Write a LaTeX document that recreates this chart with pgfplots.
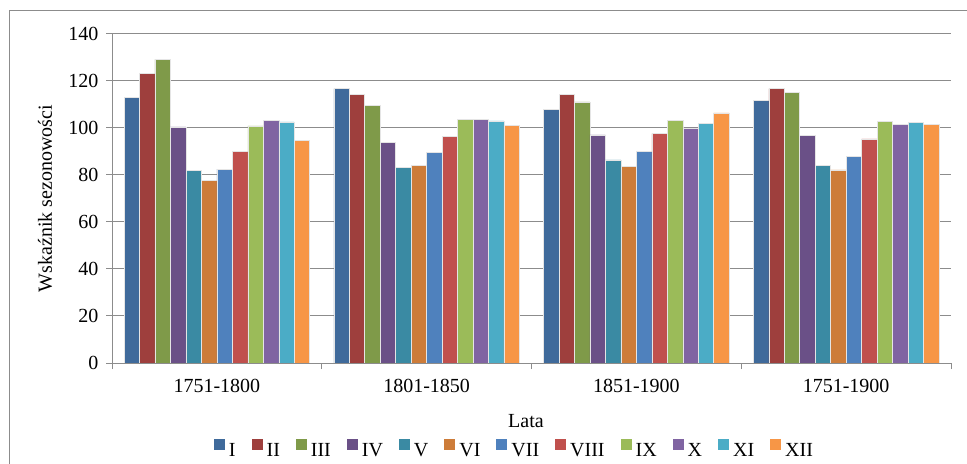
\documentclass[border=0pt]{standalone}
\usepackage{fontspec}
\setmainfont{Liberation Serif}
\usepackage{pgfplots}
\pgfplotsset{compat=1.18}

\definecolor{cI}{HTML}{3F6A9B}
\definecolor{cII}{HTML}{9E3F3D}
\definecolor{cIII}{HTML}{7F9A49}
\definecolor{cIV}{HTML}{6A5087}
\definecolor{cV}{HTML}{3A8AA3}
\definecolor{cVI}{HTML}{CD7C39}
\definecolor{cVII}{HTML}{4F81BD}
\definecolor{cVIII}{HTML}{C0504D}
\definecolor{cIX}{HTML}{9BBB59}
\definecolor{cX}{HTML}{8064A2}
\definecolor{cXI}{HTML}{4BACC6}
\definecolor{cXII}{HTML}{F79646}
\definecolor{gridgray}{HTML}{8C8C8C}

\newcommand\fsz{\fontsize{20bp}{24bp}\selectfont}

\begin{document}
\begin{tikzpicture}
\useasboundingbox (0bp,0bp) rectangle (967bp,464bp);
% chart area frame (only left and top edges are visible)
\draw[gridgray, line width=1bp] (9bp,0bp) -- (9bp,453bp) -- (967bp,453bp);
\begin{axis}[
  at={(112bp,101bp)}, anchor=south west,
  scale only axis, width=839bp, height=329bp,
  ybar=0pt, bar width=15.47bp,
  xmin=-0.5, xmax=3.5, ymin=0, ymax=140,
  xtick={-0.5,0.5,1.5,2.5,3.5},
  x tick label as interval=true,
  xticklabels={1751-1800,1801-1850,1851-1900,1751-1900},
  ytick={0,20,...,140},
  axis x line*=bottom, axis y line*=left,
  axis line style={draw=gridgray, line width=1bp},
  tick style={draw=gridgray, line width=1bp},
  tick align=outside, major tick length=6bp,
  ymajorgrids, grid style={draw=gridgray, line width=1bp},
  /pgf/number format/assume math mode=true,
  tick label style={font=\fsz, black},
  xticklabel style={yshift=-7bp},
  yticklabel style={xshift=-4bp},
  label style={font=\fsz},
  xlabel={Lata},
  xlabel style={at={(axis description cs:0.4934,-0.176)}, anchor=center},
  ylabel={Wskaźnik sezonowości},
  ylabel style={at={(axis description cs:-0.0799,0.5)}, anchor=center},
  legend columns=12,
  legend style={at={(axis description cs:0.4797,-0.263)}, anchor=center,
    draw=none, fill=none, font=\fsz,
    /tikz/every odd column/.append style={column sep=2bp},
    /tikz/every even column/.append style={column sep=14bp}},
  legend image code/.code={\fill[#1,draw=none] (0bp,1bp) rectangle (11bp,12bp);},
  every axis plot/.append style={draw=white!80!gray, line width=0.5bp},
]
\addplot[fill=cI]    coordinates {(0,112.9) (1,116.8) (2,107.8) (3,111.9)};
\addplot[fill=cII]   coordinates {(0,123.4) (1,114.4) (2,114.4) (3,116.8)};
\addplot[fill=cIII]  coordinates {(0,129.2) (1,109.7) (2,111.1) (3,115.3)};
\addplot[fill=cIV]   coordinates {(0,100.5) (1,93.8) (2,97.1) (3,96.9)};
\addplot[fill=cV]    coordinates {(0,82.0) (1,83.2) (2,86.4) (3,84.2)};
\addplot[fill=cVI]   coordinates {(0,77.7) (1,84.0) (2,83.7) (3,82.2)};
\addplot[fill=cVII]  coordinates {(0,82.5) (1,89.6) (2,90.0) (3,88.0)};
\addplot[fill=cVIII] coordinates {(0,90.1) (1,96.4) (2,97.6) (3,95.4)};
\addplot[fill=cIX]   coordinates {(0,100.9) (1,103.7) (2,103.3) (3,102.9)};
\addplot[fill=cX]    coordinates {(0,103.2) (1,103.6) (2,100.0) (3,101.7)};
\addplot[fill=cXI]   coordinates {(0,102.6) (1,103.0) (2,101.9) (3,102.5)};
\addplot[fill=cXII]  coordinates {(0,94.7) (1,101.2) (2,106.4) (3,101.6)};
\legend{I,II,III,IV,V,VI,VII,VIII,IX,X,XI,XII}
\end{axis}
\end{tikzpicture}
\end{document}
